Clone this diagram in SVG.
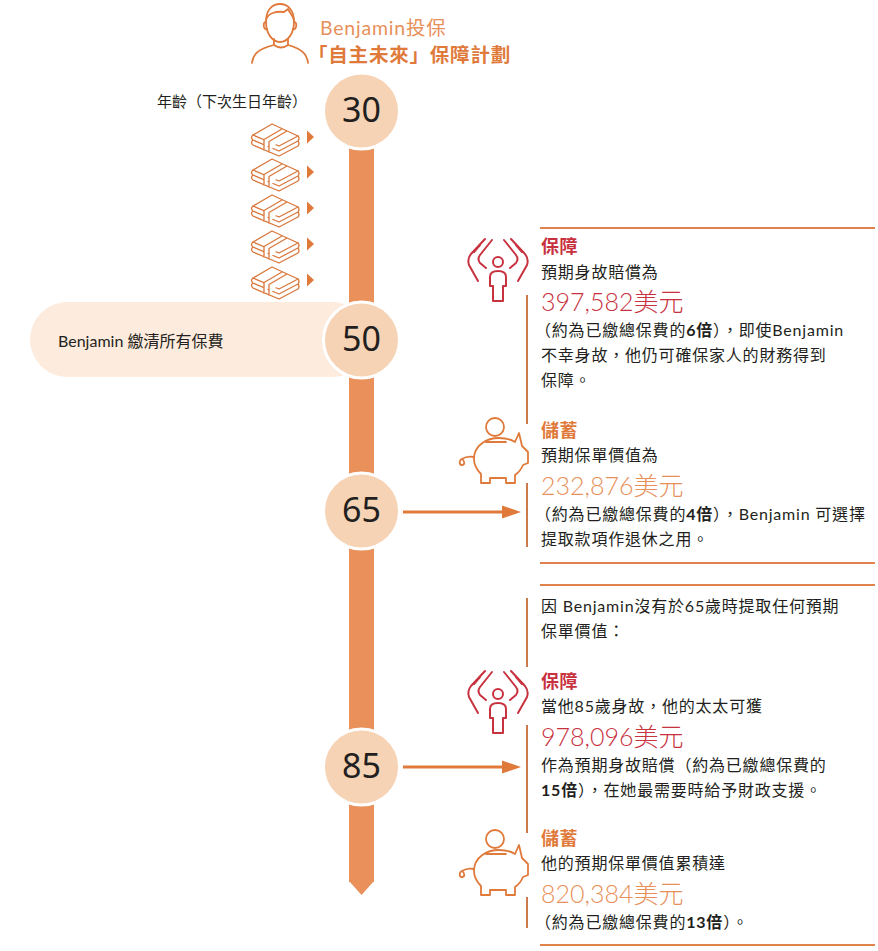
<svg xmlns="http://www.w3.org/2000/svg" xmlns:xlink="http://www.w3.org/1999/xlink" width="878" height="951" viewBox="0 0 878 951">
<style>
.cjk{font-family:"Lato","Noto Sans CJK TC","Noto Sans",sans-serif}
.cjkn{font-family:"Noto Sans CJK TC","Noto Sans",sans-serif}
.body{font-size:16px;fill:#231F20;letter-spacing:0.8px}
.redh{font-size:18px;font-weight:bold;fill:#C8323F;letter-spacing:0.5px}
.orh{font-size:18px;font-weight:bold;fill:#E07A3B;letter-spacing:0.5px}
.amtr{font-family:"Lato","Noto Sans CJK TC",sans-serif;font-size:25px;font-weight:300;fill:#C8323F}
.amto{font-family:"Lato","Noto Sans CJK TC",sans-serif;font-size:25px;font-weight:300;fill:#E8905A}
.num{font-family:"Noto Sans","Open Sans",sans-serif;font-size:34px;fill:#231F20;text-anchor:middle}
.circ{fill:#F6D3B5;stroke:#FFFFFF;stroke-width:3}
.rule{stroke:#E0824C;stroke-width:2;fill:none}
.vline{stroke:#C97B4B;stroke-width:2;fill:none}
.icoR{stroke:#C8323F;stroke-width:2;fill:none;stroke-linecap:round;stroke-linejoin:round}
.icoO{stroke:#E07A3B;stroke-width:1.8;fill:none;stroke-linecap:round;stroke-linejoin:round}
.money{stroke:#D9783C;stroke-width:1.3;fill:#FFFFFF;stroke-linejoin:round}
.arr{stroke:#E07A3B;stroke-width:3;fill:none}
</style>
<defs>
<g id="moneyIcon">
<path class="money" d="M-23,3 Q-26,5.5 -23,8 L3,19 L22,9 Q24,6.5 22,4 Z"/>
<path class="money" d="M-23,-2 Q-26,0.5 -23,3 L3,14 L22,4 Q24,1.5 22,-1 Z"/>
<path class="money" d="M-23,-2 L-4,-13 L22,-1 L3,9 Z"/>
<path class="money" fill="none" d="M6,-8 L-12,2.5 L-12,13.5 M11,-6 L-7,4.5 L-7,15.5"/>
<polygon points="31,-6.5 38,0 31,6.5" fill="#E07A3B"/>
</g>
<g id="protectIcon">
<path class="icoR" d="M485,239 L471,254 Q467,259 469,265 L478,281 M492,240 L480,255 Q477,259 480,263 L486,268 M480,245 L474,252"/>
<path class="icoR" d="M511,239 L525,254 Q529,259 527,265 L518,281 M504,240 L516,255 Q519,259 516,263 L510,268 M516,245 L522,252"/>
<circle class="icoR" cx="498" cy="262" r="5"/>
<path class="icoR" d="M490,286 V277 Q490,271 498,271 Q506,271 506,277 V286 H503 V301 H493 V286 Z"/>
</g>
<g id="piggyIcon">
<circle class="icoO" cx="495" cy="427" r="9"/>
<path class="icoO" d="M486,442 H506"/>
<path class="icoO" d="M474,459 C474,445 487,438 499,438 C507,438 512,440 515,442 L519,433 L522,446 C524,448 526,450 528,452 L528,463 L523,465 C521,470 518,473 515,475 L515,483 L506,483 L506,478 L490,478 L490,483 L481,483 L481,474 C477,470 474,465 474,459 Z"/>
<path class="icoO" d="M474,457 C469,456 465,457 462,459 M462,459 C459,460 459,465 462,465 C465,465 465,461 462,459"/>
</g>
</defs>

<g id="header">
<path class="icoO" d="M266,22 C266,10 272,4 280,4 C288,4 294,10 294,22 C294,33 288,42 280,42 C272,42 266,33 266,22 Z"/>
<path class="icoO" d="M266,20 C268,13 276,11 284,12 L288,9 C290,13 293,16 294,20"/>
<path class="icoO" d="M266,22 Q263,22 264,27 Q265,30 267,29 M294,22 Q297,22 296,27 Q295,30 293,29"/>
<path class="icoO" d="M274,39 L274,45 Q281,50 288,45 L288,39"/>
<path class="icoO" d="M252,63 C253,54 258,49 274,45 M308,63 C307,54 302,49 288,45"/>
<text class="cjk" x="320" y="35" font-size="19.5" fill="#E8905A" letter-spacing="0.8">Benjamin投保</text>
<text class="cjkn" x="308" y="62" font-size="19.5" font-weight="bold" fill="#E07A3B" letter-spacing="0.8">「自主未來」保障計劃</text>
</g>

<g id="timeline">
<rect x="349" y="140" width="25" height="742" fill="#E9905B"/>
<polygon points="349,881 374,881 361.5,895" fill="#E9905B"/>
</g>

<g id="age-label">
<text class="cjkn" x="157" y="107" font-size="15" fill="#231F20">年齡（下次生日年齡）</text>
</g>

<g id="premiums">
<use xlink:href="#moneyIcon" x="276" y="137"/>
<use xlink:href="#moneyIcon" x="276" y="172"/>
<use xlink:href="#moneyIcon" x="276" y="208"/>
<use xlink:href="#moneyIcon" x="276" y="244"/>
<use xlink:href="#moneyIcon" x="276" y="280"/>
</g>

<g id="paid-pill">
<rect x="30" y="302" width="340" height="75" rx="37.5" fill="#FDEBDD"/>
<text class="cjk" x="58" y="347" font-size="16" fill="#231F20">Benjamin 繳清所有保費</text>
</g>

<g id="age30"><circle class="circ" cx="361.5" cy="111" r="38"/><text class="num" x="361.5" y="122">30</text></g>
<g id="age50"><circle class="circ" cx="361.5" cy="340" r="38"/><text class="num" x="361.5" y="351">50</text></g>
<g id="age65"><circle class="circ" cx="361.5" cy="511" r="38"/><text class="num" x="361.5" y="522">65</text></g>
<g id="age85"><circle class="circ" cx="361.5" cy="767" r="38"/><text class="num" x="361.5" y="778">85</text></g>

<g id="connectors">
<line class="arr" x1="403" y1="512" x2="505" y2="512"/>
<polygon points="502,505.5 521,512 502,518.5" fill="#E07A3B"/>
<line class="arr" x1="403" y1="767" x2="505" y2="767"/>
<polygon points="502,760.5 521,767 502,773.5" fill="#E07A3B"/>
</g>

<g id="panel65">
<line class="rule" x1="540" y1="228" x2="875" y2="228"/>
<line class="rule" x1="540" y1="563" x2="875" y2="563"/>
<line class="vline" x1="527" y1="295" x2="527" y2="424"/>
<line class="vline" x1="527" y1="483" x2="527" y2="547"/>
<use xlink:href="#protectIcon"/>
<use xlink:href="#piggyIcon"/>
<text class="cjkn redh" x="541" y="253">保障</text>
<text class="cjk body" x="541" y="278">預期身故賠償為</text>
<text class="amtr" x="541" y="311">397,582美元</text>
<text class="cjk body" x="535" y="336">（約為已繳總保費的<tspan font-weight="bold">6倍</tspan>），即使Benjamin</text>
<text class="cjk body" x="541" y="361">不幸身故，他仍可確保家人的財務得到</text>
<text class="cjk body" x="541" y="386">保障。</text>
<text class="cjkn orh" x="541" y="437">儲蓄</text>
<text class="cjk body" x="541" y="461">預期保單價值為</text>
<text class="amto" x="541" y="495">232,876美元</text>
<text class="cjk body" x="535" y="520">（約為已繳總保費的<tspan font-weight="bold">4倍</tspan>），Benjamin 可選擇</text>
<text class="cjk body" x="541" y="545">提取款項作退休之用。</text>
</g>

<g id="panel85">
<line class="rule" x1="540" y1="585" x2="875" y2="585"/>
<line class="rule" x1="540" y1="945" x2="875" y2="945"/>
<line class="vline" x1="527" y1="598" x2="527" y2="667"/>
<line class="vline" x1="527" y1="725" x2="527" y2="833"/>
<line class="vline" x1="527" y1="897" x2="527" y2="928"/>
<use xlink:href="#protectIcon" transform="translate(0,432)"/>
<use xlink:href="#piggyIcon" transform="translate(0,412)"/>
<text class="cjk body" x="541" y="612">因 Benjamin沒有於65歲時提取任何預期</text>
<text class="cjk body" x="541" y="637">保單價值：</text>
<text class="cjkn redh" x="541" y="688">保障</text>
<text class="cjk body" x="541" y="712">當他85歲身故，他的太太可獲</text>
<text class="amtr" x="541" y="746">978,096美元</text>
<text class="cjk body" x="541" y="771">作為預期身故賠償（約為已繳總保費的</text>
<text class="cjk body" x="541" y="796"><tspan font-weight="bold">15倍</tspan>），在她最需要時給予財政支援。</text>
<text class="cjkn orh" x="541" y="845">儲蓄</text>
<text class="cjk body" x="541" y="869">他的預期保單價值累積達</text>
<text class="amto" x="541" y="903">820,384美元</text>
<text class="cjk body" x="535" y="928">（約為已繳總保費的<tspan font-weight="bold">13倍</tspan>）。</text>
</g>
</svg>
